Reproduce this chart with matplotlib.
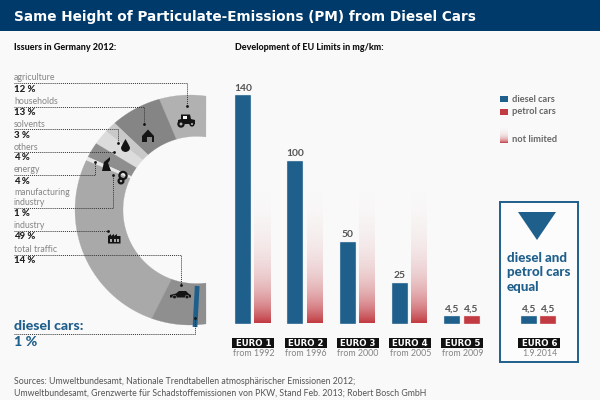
import numpy as np
import matplotlib
matplotlib.use("Agg")
import matplotlib.pyplot as plt
from matplotlib.patches import Rectangle, Polygon, Circle, PathPatch
from matplotlib.path import Path

# ---- data ----
sectors = ["agriculture", "households", "solvents", "others", "energy",
           "manufacturing\nindustry", "industry", "total traffic"]
shares = [12, 13, 3, 4, 4, 1, 49, 14]
diesel_share = 1
standards = ["EURO 1", "EURO 2", "EURO 3", "EURO 4", "EURO 5", "EURO 6"]
dates = ["from 1992", "from 1996", "from 2000", "from 2005", "from 2009", "1.9.2014"]
diesel_limits = [140, 100, 50, 25, 4.5, 4.5]
petrol_limits = [None, None, None, None, 4.5, 4.5]
unlimited_height = 100
limit_labels = ["140", "100", "50", "25", "4,5", "4,5"]

# ---- style ----
BG = "#f9f9f9"; NAVY = "#003a6b"; BLUE = "#1f5f8b"; RED = "#c23b42"
GREY = "#858585"; DARK = "#222222"; VAL = "#555555"
sector_colors = ["#b1b1b1", "#858585", "#c9c9c9", "#dcdcdc", "#8e8e8e",
                 "#e8e8e8", "#a9a9aa", "#8f8f8f"]
FONT = "Lato"

fig = plt.figure(figsize=(6, 4), dpi=100, facecolor=BG)
px = fig.add_axes([0, 0, 1, 1])
px.axis("off")


def lim():
    px.set_xlim(0, 600)
    px.set_ylim(400, 0)


lim()


def T(x, y, s, **k):
    k.setdefault("va", "center")
    k.setdefault("family", FONT)
    return px.text(x, y, s, **k)


# header
px.add_patch(Rectangle((0, 0), 600, 31, color=NAVY, lw=0))
T(13.5, 17, "Same Height of Particulate-Emissions (PM) from Diesel Cars",
  family="DejaVu Sans", weight="bold", color="white", fontsize=9.8)
T(14, 47.5, "Issuers in Germany 2012:", weight="black", color="#111111", fontsize=6.5)
T(235, 47.5, "Development of EU Limits in mg/km:", weight="black", color="#111111", fontsize=6.5)

# ---- ring ----
CX, CY, R = 190, 210, 115
ICX, IR = 196.6, 73.6
A0, A1 = 82.0, 278.0
I0, I1 = 82.7, 277.3


def ring_poly(f0, f1, n=40):
    f = np.linspace(f0, f1, n)
    ao = np.radians(A0 + (A1 - A0) * f)
    ai = np.radians(I0 + (I1 - I0) * f)
    ox = CX + R * np.cos(ao); oy = CY - R * np.sin(ao)
    ix = ICX + IR * np.cos(ai); iy = CY - IR * np.sin(ai)
    return np.column_stack([np.r_[ox, ix[::-1]], np.r_[oy, iy[::-1]]])


fr = np.cumsum([0] + shares) / sum(shares)
for i, c in enumerate(sector_colors):
    px.add_patch(Polygon(ring_poly(fr[i], fr[i + 1]), closed=True, fc=c, ec=c, lw=0.2, zorder=2))
# diesel share marker, inside the traffic sector
px.plot([197.2, 195], [286, 327], color=BLUE, lw=3.4, solid_capstyle="butt", zorder=3)

# ---- icons ----
K = "#141414"


def poly(pts, c=K, z=4):
    px.add_patch(Polygon(pts, closed=True, fc=c, ec="none", zorder=z))


# tractor
poly([(178, 120), (181, 119), (181, 114.5), (190, 114.5), (191, 119), (195, 120), (195, 124), (178, 124)])
poly([(182.5, 115.5), (186.5, 115.5), (186.5, 119), (182.5, 119)], BG, 5)
for cx_, r_ in ((181, 3.7), (192, 2.6)):
    px.add_patch(Circle((cx_, 124), r_, fc=K, ec="none", zorder=5))
    px.add_patch(Circle((cx_, 124), r_ * .4, fc="#b1b1b1", ec="none", zorder=6))
# house
poly([(148, 129.5), (154, 136), (154, 142), (142, 142), (142, 136)])
poly([(147, 136.5), (152, 136.5), (152, 142), (147, 142)], "#858585", 5)
# drop
verts = [(125.5, 139), (122, 145), (121, 147.5), (121, 151.5), (125.5, 152), (130, 151.5), (130, 147.5), (129, 145), (125.5, 139)]
codes = [Path.MOVETO] + [Path.CURVE3] * 8
px.add_patch(PathPatch(Path(verts, codes), fc=K, ec="none", zorder=4))
# energy
poly([(102, 171), (104, 162), (110, 157), (110, 160), (108, 163), (111, 171)])
# gears
for x_, y_, r_ in ((123, 175.5, 3.6), (121, 181, 2.4)):
    px.add_patch(Circle((x_, y_), r_, fc="none", ec=K, lw=1.6, zorder=4))
# factory
poly([(108, 243.5), (108, 236), (111, 234), (111, 236), (114, 234), (114, 236), (117, 234), (117, 236), (120.5, 236), (120.5, 243.5)])
for x_ in (110, 113.5, 117):
    px.add_patch(Rectangle((x_, 239), 2, 2.5, fc="#a9a9aa", ec="none", zorder=5))
# car
poly([(170, 295), (176, 293.5), (179, 291), (186, 291), (189, 294), (191, 295), (191, 297.5), (170, 297.5)])
for x_ in (174.5, 187):
    px.add_patch(Circle((x_, 297), 1.8, fc=K, ec="#8f8f8f", lw=0.4, zorder=5))

# ---- labels and leaders ----
name_y = [78, 101.5, 124.5, 147, 170, 197.5, 226, 249.5]
pct_y = [89, 112.5, 135, 158, 181, 213, 236.5, 260.5]
for n, s, y0, y1 in zip(sectors, shares, name_y, pct_y):
    T(14, y0, n, color=GREY, fontsize=6.3, linespacing=1.05)
    T(14, y1, f"{s} %", color=DARK, weight="black", fontsize=6.9)

leaders = [[(14, 83.3), (186.7, 83.3), (186.7, 106)],
           [(14, 106.7), (144.3, 106.7), (144.3, 124.3)],
           [(14, 129.3), (118, 129.3), (118, 142.7)],
           [(14, 152.3), (114, 152.3)],
           [(14, 175), (95.3, 175), (95.3, 162.3)],
           [(14, 207.7), (113.3, 207.7), (113.3, 175)],
           [(14, 231.3), (107.7, 231.3)],
           [(14, 255), (181.3, 255), (181.3, 284.7)],
           [(14, 334), (195.3, 334), (195.3, 317.7)]]
for pts in leaders:
    xs, ys = zip(*pts)
    px.plot(xs, ys, color="#333333", lw=0.7, ls=(0, (1, 1)), zorder=7)
    px.plot(xs[-1], ys[-1], "o", color="#111111", ms=2, mew=0, zorder=8)

T(14, 326.5, "diesel cars:", color=BLUE, weight="black", fontsize=10.2)
T(14, 341.5, f"{diesel_share} %", color=BLUE, weight="black", fontsize=10.2)

# ---- gradient ----
t = np.linspace(0, 1, 128)
grad = np.zeros((128, 1, 4))
grad[..., :3] = matplotlib.colors.to_rgb(RED)
grad[:, 0, 3] = 0.6 * t ** 3 + 0.4 * t ** 8

# ---- bars ----
PITCH = 52.3; G0 = 252.6; BAR = 16 / PITCH; OFF = 9.7 / PITCH
SCALE = 1.63; BASE = 323.5
groups = [0, 1, 2, 3, 4, 5.47]
ax = fig.add_axes([225 / 600, (400 - BASE) / 400, 365 / 600, (BASE - 85) / 400])
ax.axis("off")
ax.patch.set_alpha(0)
xl = ((225 - G0) / PITCH, (590 - G0) / PITCH)
yl = (0, (BASE - 85) / SCALE)

# box behind euro 6
px.add_patch(Rectangle((500.3, 202), 77.7, 160, fc="#fcfcfc", ec=BLUE, lw=1.4, zorder=1))
poly([(518, 212), (556, 212), (537, 240)], BLUE, 2)
for y_, s in zip((257.5, 272.3, 287), ("diesel and", "petrol cars", "equal")):
    T(507, y_, s, color=BLUE, weight="black", fontsize=9.6)

for g, d, p, lab in zip(groups, diesel_limits, petrol_limits, limit_labels):
    ax.bar(g - OFF, d, BAR, color=BLUE, ec="#dfe8ee", lw=0.3)
    ax.text(g - OFF, d + 1.7, lab, ha="center", va="bottom", color=VAL, fontsize=7.4,
            family=FONT, weight="bold")
    if p is None:
        ax.imshow(grad, extent=(g + OFF - BAR / 2, g + OFF + BAR / 2, 0, unlimited_height),
                  aspect="auto", origin="upper", interpolation="bilinear")
    else:
        ax.bar(g + OFF, p, BAR, color=RED, ec="#f0d8da", lw=0.3)
        ax.text(g + OFF, p + 1.7, limit_labels[4], ha="center", va="bottom", color=VAL, fontsize=7.4,
                family=FONT, weight="bold")
ax.set_xlim(*xl)
ax.set_ylim(*yl)

# euro tags
for g, s, dt in zip(groups, standards, dates):
    xc = G0 + g * PITCH + 0.7
    px.add_patch(Rectangle((xc - 21, 337.7), 42, 10.5, fc="#111111", ec="none", zorder=3))
    T(xc, 343, s, family="DejaVu Sans", weight="bold", color="white", fontsize=6.2, ha="center", zorder=4)
    T(xc, 353.8, dt, color=GREY, fontsize=6.4, ha="center", zorder=4)

# legend
px.add_patch(Rectangle((500, 95.7), 7.8, 6.2, fc=BLUE, ec="none"))
px.add_patch(Rectangle((500, 108.8), 7.8, 6.4, fc=RED, ec="none"))
px.imshow(grad, extent=(500, 507.8, 142.7, 123), aspect="auto", origin="upper", interpolation="bilinear")
lim()
for y_, s in zip((99, 112, 139.6), ("diesel cars", "petrol cars", "not limited")):
    T(511.7, y_, s, color="#666666", weight="bold", fontsize=6.7)

# sources
T(14, 381, "Sources: Umweltbundesamt, Nationale Trendtabellen atmosphärischer Emissionen 2012;",
  color="#555555", fontsize=6.3)
T(14, 393.5, "Umweltbundesamt, Grenzwerte für Schadstoffemissionen von PKW, Stand Feb. 2013; Robert Bosch GmbH",
  color="#555555", fontsize=6.3)

fig.savefig("out.png", dpi=100, facecolor=BG)
